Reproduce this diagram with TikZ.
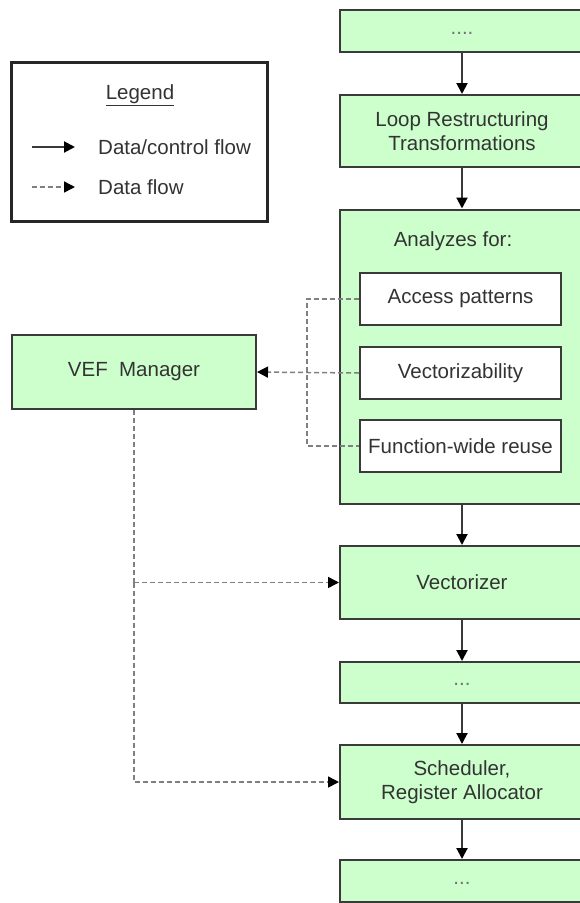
\documentclass[tikz,border=0pt]{standalone}
\usepackage{fontspec}
\setmainfont{Liberation Sans}
\usetikzlibrary{arrows.meta}
\definecolor{boxfill}{HTML}{CCFFCC}
\definecolor{ink}{HTML}{333333}
\definecolor{edge}{HTML}{3A3A3A}
\definecolor{dashc}{HTML}{808080}
\newcommand{\lowdots}[1]{\raisebox{-6pt}{\textcolor{black!55}{#1}}}
\begin{document}
\begin{tikzpicture}[x=1pt,y=-1pt,
  txt/.style={text=ink, font=\fontsize{20.5}{24}\selectfont, align=center, inner sep=0pt},
  box/.style={txt, draw=edge, line width=2pt, fill=boxfill, minimum width=244pt},
  inbox/.style={txt, draw=edge, line width=2pt, fill=white, minimum width=201pt, minimum height=52pt},
  legendbox/.style={draw=black!85, line width=3pt, minimum width=256pt, minimum height=159pt, inner sep=0pt},
  flow/.style={draw=edge, line width=2pt, -{Triangle[length=11pt,width=11pt,color=black,fill=black]}},
  dflow/.style={draw=dashc, line width=1.5pt, dash pattern=on 5pt off 3pt, -{Triangle[length=11pt,width=11pt,color=black,fill=black]}},
  dline/.style={draw=dashc, line width=1.5pt, dash pattern=on 5pt off 3pt}
]
\useasboundingbox (0,0) rectangle (579,903);

% right column
\node[box, minimum height=42pt] (top) at (462,31) {\lowdots{....}};
\node[box, minimum height=72pt] (loop) at (462,131) {Loop Restructuring\\Transformations};
\node[box, minimum height=294pt] (ana) at (462,356.5) {};
\node[txt] (analbl) at (453,241) {Analyzes for:};
\node[inbox] (acc) at (460.5,299) {Access patterns};
\node[inbox] (vec) at (460.5,373) {Vectorizability};
\node[inbox] (fun) at (460.5,446) {Function-wide reuse};
\node[box, minimum height=73pt] (vz) at (462,582.5) {Vectorizer};
\node[box, minimum height=41pt] (d2) at (462,682.5) {\lowdots{...}};
\node[box, minimum height=74pt] (sch) at (462,782) {Scheduler,\\Register Allocator};
\node[box, minimum height=42pt] (d3) at (462,881) {\lowdots{...}};

% VEF manager
\node[box, minimum height=74pt] (vef) at (134,372) {VEF\ \ Manager};

% solid flow
\draw[flow] (top) -- (loop);
\draw[flow] (loop) -- (ana);
\draw[flow] (ana) -- (vz);
\draw[flow] (vz) -- (d2);
\draw[flow] (d2) -- (sch);
\draw[flow] (sch) -- (d3);

% dashed data flow
\draw[dline] (acc.west) -- ++(-52,0) |- (fun.west);
\draw[dflow] (vec.west) -- (vef.east);
\coordinate (jv) at (vef.south |- vz.west);
\draw[dline] (vef.south) -- (jv);
\draw[dflow] (jv) -- (vz.west);
\draw[dflow] (jv) |- (sch.west);

% legend
\node[legendbox] (leg) at (139,141.5) {};
\node[txt] (legt) at (140,95) {\underline{Legend}};
\coordinate (la1) at (32,147);
\coordinate (lb1) at (75,147);
\coordinate (la2) at (32,187);
\coordinate (lb2) at (75,187);
\draw[flow] (la1) -- (lb1);
\draw[dflow] (la2) -- (lb2);
\node[txt, anchor=west] (l1) at (98,147) {Data/control flow};
\node[txt, anchor=west] (l2) at (98,187) {Data flow};
\end{tikzpicture}
\end{document}
